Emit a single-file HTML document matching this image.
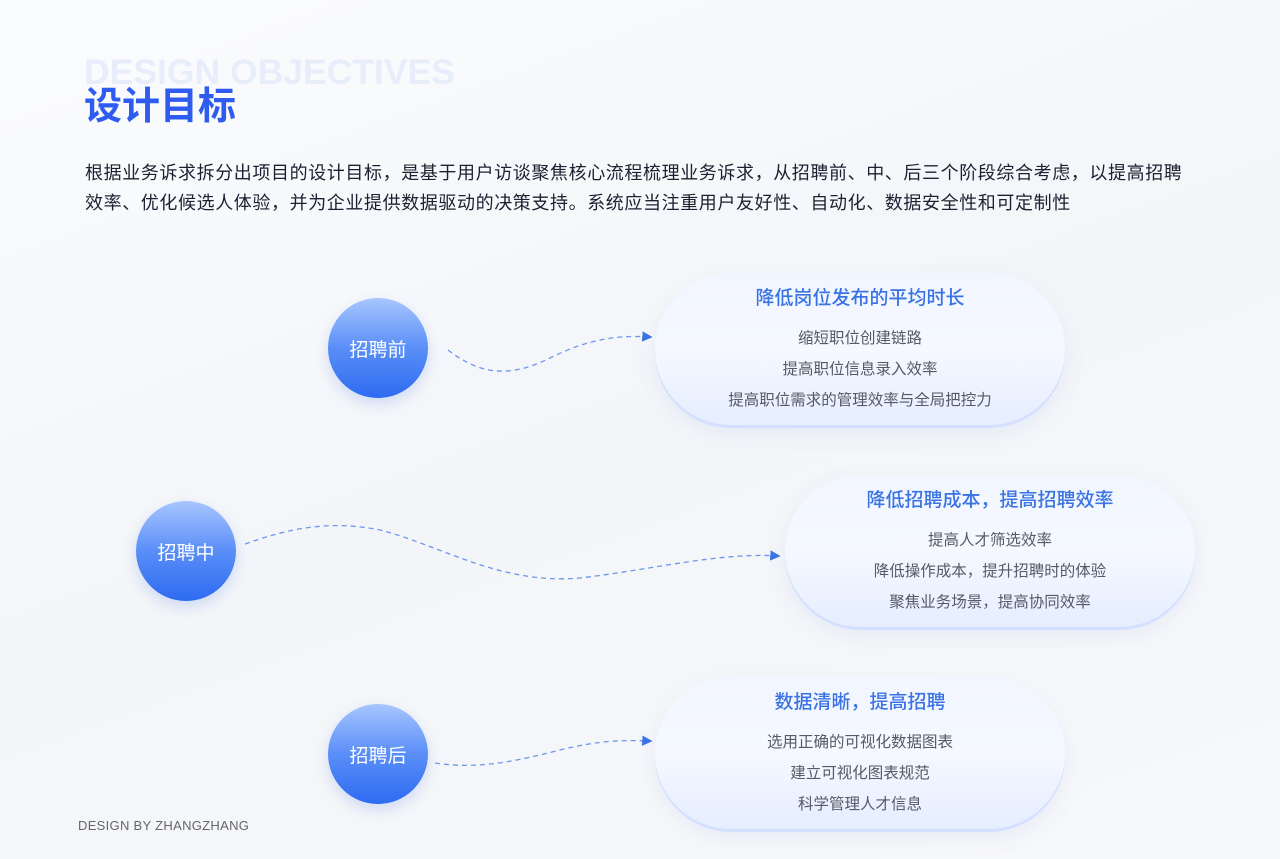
<!DOCTYPE html>
<html><head><meta charset="utf-8"><style>
body{margin:0;width:1280px;height:859px;overflow:hidden;background:linear-gradient(160deg,#fbfcfe 0%,#f3f5f8 50%,#f7f8fa 100%);font-family:"Liberation Sans","Noto Sans CJK SC",sans-serif;position:relative}
.abs{position:absolute}
.bg{position:absolute;left:84px;top:52px;font:bold 35.5px "Liberation Sans",sans-serif;color:#e8edfb}
.h{position:absolute;left:84px;top:75px;font-weight:bold;font-size:38px;color:#2f5cf0}
.p{position:absolute;left:85px;top:158px;white-space:nowrap;font-size:18px;letter-spacing:0.6px;line-height:30px;color:#1d2030}
.c{position:absolute;width:100px;height:100px;border-radius:50%;background:linear-gradient(180deg,#a8c6ff 0%,#5a8ef7 50%,#2d6bf1 100%);color:#fff;font-size:19px;display:flex;align-items:center;justify-content:center;box-shadow:0 6px 14px rgba(60,110,230,.2)}
.pill{position:absolute;width:410px;height:152px;border-radius:76px;background:linear-gradient(180deg,#f2f6ff 0%,#f5f8ff 50%,#e5edff 100%);box-shadow:0 3px 0 #d3e0ff,0 8px 20px rgba(120,150,220,.12);text-align:center}
.pill .t{color:#3a73e4;font-size:19px;margin-top:10px;font-weight:500}
.pill .l{color:#555a66;font-size:15.5px;line-height:31px}
.pill .ls{margin-top:13px}
.f{position:absolute;left:78px;top:818px;font-size:13px;color:#666;letter-spacing:.3px}
</style></head><body>
<div class="bg">DESIGN OBJECTIVES</div>
<div class="h">设计目标</div>
<div class="p">根据业务诉求拆分出项目的设计目标，是基于用户访谈聚焦核心流程梳理业务诉求，从招聘前、中、后三个阶段综合考虑，以提高招聘<br>效率、优化候选人体验，并为企业提供数据驱动的决策支持。系统应当注重用户友好性、自动化、数据安全性和可定制性</div>
<svg class="abs" style="left:0;top:0" width="1280" height="859">
<defs><marker id="a" markerWidth="8" markerHeight="8" refX="6" refY="4" orient="auto"><path d="M0,0 L8,4 L0,8 z" fill="#3a73e4"/></marker></defs>
<g fill="none" stroke="#4a80e8" stroke-width="1.3" stroke-dasharray="5,4">
<path d="M448,350 C480,375 510,378 550,358 C590,338 620,335 650,337" marker-end="url(#a)" stroke-opacity=".8"/>
<path d="M245,544 C290,528 330,520 380,530 C440,545 500,585 580,578 C650,570 720,552 778,556" marker-end="url(#a)" stroke-opacity=".8"/>
<path d="M435,763 C480,770 520,760 560,750 C600,740 625,740 650,741" marker-end="url(#a)" stroke-opacity=".8"/>
</g></svg>
<div class="c" style="left:328px;top:298px">招聘前</div>
<div class="c" style="left:136px;top:501px">招聘中</div>
<div class="c" style="left:328px;top:704px">招聘后</div>
<div class="pill" style="left:655px;top:273px"><div class="t">降低岗位发布的平均时长</div><div class="ls"><div class="l">缩短职位创建链路</div><div class="l">提高职位信息录入效率</div><div class="l">提高职位需求的管理效率与全局把控力</div></div></div>
<div class="pill" style="left:785px;top:475px"><div class="t">降低招聘成本，提高招聘效率</div><div class="ls"><div class="l">提高人才筛选效率</div><div class="l">降低操作成本，提升招聘时的体验</div><div class="l">聚焦业务场景，提高协同效率</div></div></div>
<div class="pill" style="left:655px;top:677px"><div class="t">数据清晰，提高招聘</div><div class="ls"><div class="l">选用正确的可视化数据图表</div><div class="l">建立可视化图表规范</div><div class="l">科学管理人才信息</div></div></div>
<div class="f">DESIGN BY ZHANGZHANG</div>
</body></html>
